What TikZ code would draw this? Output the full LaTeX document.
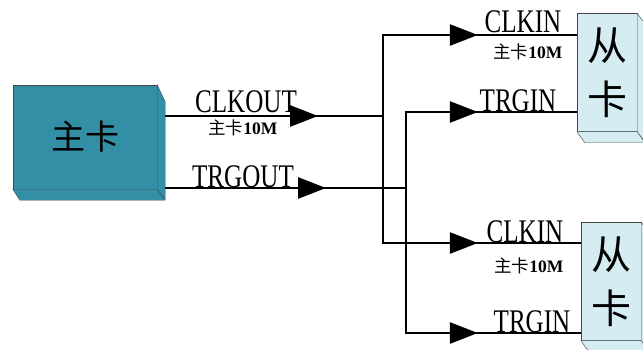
\documentclass[tikz,border=0pt]{standalone}
\usepackage{graphicx}
\usepackage{fontspec}
\setmainfont{Liberation Serif}
\newfontfamily\cjk{Noto Sans CJK SC}
\usetikzlibrary{arrows.meta, decorations.markings}
\definecolor{masterteal}{RGB}{51, 143, 166}
\definecolor{slaveblue}{RGB}{212, 236, 242}
\definecolor{edgegray}{RGB}{70, 70, 70}
\newcommand{\narrowcaps}[1]{\scalebox{0.76}[1]{#1}}
\newcommand{\tenmeg}{{\cjk 主卡}\textbf{10M}}

\tikzset{
    sig/.style={line width=2.9pt, line join=miter},
    arrowat/.style={postaction={decorate}, decoration={markings,
        mark=at position #1 with {\arrow{Triangle[length=28pt, width=21pt]}}}},
    mainbox/.style={draw=edgegray, fill=masterteal, minimum width=144pt, minimum height=104pt,
        inner sep=0pt, font=\cjk\fontsize{34}{34}\selectfont},
    slavebox/.style={draw=edgegray, fill=slaveblue, minimum width=60pt, minimum height=118pt,
        inner sep=0pt, align=center, font=\cjk\fontsize{40}{54}\selectfont},
    bevel/.style={draw=edgegray, fill=#1},
    siglabel/.style={inner sep=0pt, anchor=base, font=\fontsize{33}{33}\selectfont},
    freqlabel/.style={inner sep=0pt, font=\fontsize{17.5}{17.5}\selectfont},
}

\begin{document}
\begin{tikzpicture}[x=1pt, y=-1pt]
    \useasboundingbox (0,0) rectangle (643,349);

    % Master card
    \node[mainbox] (main) at (85,137) {主卡};
    \draw[bevel=masterteal] (main.north east) -- ++(8,17) -- ++(0,98) -- (main.south east) -- cycle;
    \draw[bevel=masterteal] (main.south west) -- ++(7,11) -- ++(145,0) -- (main.south east) -- cycle;

    % Slave cards
    \node[slavebox] (slaveA) at (607,72.5) {从\\卡};
    \draw[bevel=slaveblue] (slaveA.north east) -- ++(8,11) -- ++(0,118) -- (slaveA.south east) -- cycle;
    \draw[bevel=slaveblue] (slaveA.south west) -- ++(8,11) -- ++(60,0) -- (slaveA.south east) -- cycle;

    \node[slavebox] (slaveB) at (611,281.5) {从\\卡};
    \draw[bevel=slaveblue] (slaveB.north east) -- ++(8,11) -- ++(0,118) -- (slaveB.south east) -- cycle;
    \draw[bevel=slaveblue] (slaveB.south west) -- ++(8,11) -- ++(60,0) -- (slaveB.south east) -- cycle;

    % Signal end points
    \coordinate (clkout) at (165,116);
    \coordinate (trgout) at (165,188);
    \coordinate (clkfork) at (383,116);
    \coordinate (trgfork) at (406,188);
    \coordinate (clkinA) at (slaveA.west |- 0,35);
    \coordinate (trginA) at (slaveA.west |- 0,112);
    \coordinate (clkinB) at (slaveB.west |- 0,243);
    \coordinate (trginB) at (slaveB.west |- 0,333);

    % Signals
    \draw[sig, arrowat=-65pt] (clkout) -- (clkfork);
    \draw[sig, arrowat=-80pt] (trgout) -- (trgfork);
    \draw[sig, arrowat=-99pt] (clkfork) |- (clkinA);
    \draw[sig, arrowat=-103pt] (clkfork) |- (clkinB);
    \draw[sig, arrowat=-99pt] (trgfork) |- (trginA);
    \draw[sig, arrowat=-103pt] (trgfork) |- (trginB);

    % Labels
    \node[siglabel] (lclkout) at (246,112) {\narrowcaps{CLKOUT}};
    \node[freqlabel] (fclkout) at (243,128) {\tenmeg};
    \node[siglabel] (ltrgout) at (243,187) {\narrowcaps{TRGOUT}};
    \node[siglabel] (lclkinA) at (523,32) {\narrowcaps{CLKIN}};
    \node[freqlabel] (fclkinA) at (528,52) {\tenmeg};
    \node[siglabel] (ltrginA) at (518,111) {\narrowcaps{TRGIN}};
    \node[siglabel] (lclkinB) at (525,242) {\narrowcaps{CLKIN}};
    \node[freqlabel] (fclkinB) at (529,266) {\tenmeg};
    \node[siglabel] (ltrginB) at (532,332) {\narrowcaps{TRGIN}};
\end{tikzpicture}
\end{document}
